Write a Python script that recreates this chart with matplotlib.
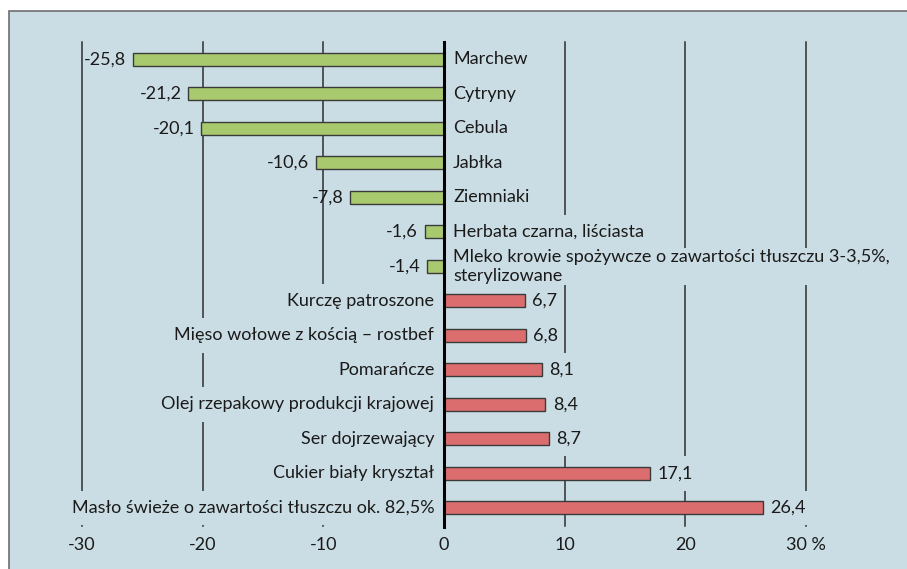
import matplotlib
matplotlib.use("Agg")
import matplotlib.pyplot as plt
from matplotlib.patches import Rectangle

plt.rcParams['font.family'] = ['Lato', 'DejaVu Sans']

categories = [
    "Marchew", "Cytryny", "Cebula", "Jabłka", "Ziemniaki",
    "Herbata czarna, liściasta",
    "Mleko krowie spożywcze o zawartości tłuszczu 3-3,5%,\nsterylizowane",
    "Kurczę patroszone", "Mięso wołowe z kością – rostbef", "Pomarańcze",
    "Olej rzepakowy produkcji krajowej", "Ser dojrzewający",
    "Cukier biały kryształ", "Masło świeże o zawartości tłuszczu ok. 82,5%",
]
values = [-25.8, -21.2, -20.1, -10.6, -7.8, -1.6, -1.4,
          6.7, 6.8, 8.1, 8.4, 8.7, 17.1, 26.4]
xticks = [-30, -20, -10, 0, 10, 20, 30]
xticklabels = ["-30", "-20", "-10", "0", "10", "20", "30 %"]

BG = "#cbdde4"
GREEN = "#a8c96e"
RED = "#dc6d6e"
TXT = "#1a1a1a"

W, H = 907, 569
fig = plt.figure(figsize=(W / 100, H / 100), dpi=100, facecolor="white")
fig.patches.append(Rectangle((9 / W, -0.1), 1.2, 1 - 11 / H + 0.1,
                             transform=fig.transFigure, facecolor=BG,
                             edgecolor="#6e6e6e", linewidth=1.2, zorder=-5))

x0 = 444.0
ppu = 12.07
xmin, xmax = -32, 32
left = (x0 + xmin * ppu) / W
right = (x0 + xmax * ppu) / W
top_px, bot_px = 42, 525
ax = fig.add_axes([left, (H - bot_px) / H, right - left, (bot_px - top_px) / H])
ax.set_facecolor("none")
ax.set_zorder(2)
for s in ax.spines.values():
    s.set_visible(False)

n = len(values)
ypos = list(range(n))
ax.set_xlim(xmin, xmax)
ax.set_ylim(n - 0.5, -0.5)

for xt in xticks:
    if xt == 0:
        ax.plot([0, 0], [-0.5, n - 0.5 + 0.06], color="black", lw=2.2, zorder=4,
                clip_on=False)
    else:
        ax.plot([xt, xt], [-0.5, n - 0.5 + 0.02], color="#2e2e2e", lw=1.1,
                zorder=1, clip_on=False)

colors = [GREEN if v < 0 else RED for v in values]
ax.barh(ypos, values, height=0.38, color=colors, edgecolor="#3a3a3a",
        linewidth=1.0, zorder=2)

fs = 13
masked = []
for y, v, c in zip(ypos, values, categories):
    vs = f"{v:.1f}".replace(".", ",")
    if v < 0:
        ax.text(v - 0.55, y, vs, ha="right", va="center", fontsize=fs,
                color=TXT, zorder=3)
        t = ax.text(0.75, y, c, ha="left", va="center", fontsize=fs, color=TXT,
                    zorder=3, linespacing=1.2)
        masked.append((t, y, 2, 14, "\n" not in c))
    else:
        t1 = ax.text(v + 0.6, y, vs, ha="left", va="center", fontsize=fs,
                     color=TXT, zorder=3)
        masked.append((t1, y, 3, 3, True))
        t2 = ax.text(-0.8, y, c, ha="right", va="center", fontsize=fs,
                     color=TXT, zorder=3)
        masked.append((t2, y, 17, 2, True))

ax.set_yticks([])
ax.set_xticks(xticks)
ax.set_xticklabels(xticklabels, fontsize=fs, color=TXT)
ax.tick_params(axis="x", length=0, pad=9)

fig.canvas.draw()
renderer = fig.canvas.get_renderer()
inv = ax.transData.inverted()
for t, y, lp, rp, full in masked:
    bb = t.get_window_extent(renderer)
    (xa, ya), (xb, yb) = inv.transform([(bb.x0 - lp, bb.y0 - 1),
                                        (bb.x1 + rp, bb.y1 + 1)])
    if full:
        ylo, yhi = y - 0.5, y + 0.5
    else:
        ylo, yhi = min(ya, yb), max(ya, yb)
    ax.add_patch(Rectangle((xa, ylo), xb - xa, yhi - ylo, facecolor=BG,
                           edgecolor="none", zorder=1.5, clip_on=False))

fig.savefig("out.png", dpi=100, facecolor="white")
